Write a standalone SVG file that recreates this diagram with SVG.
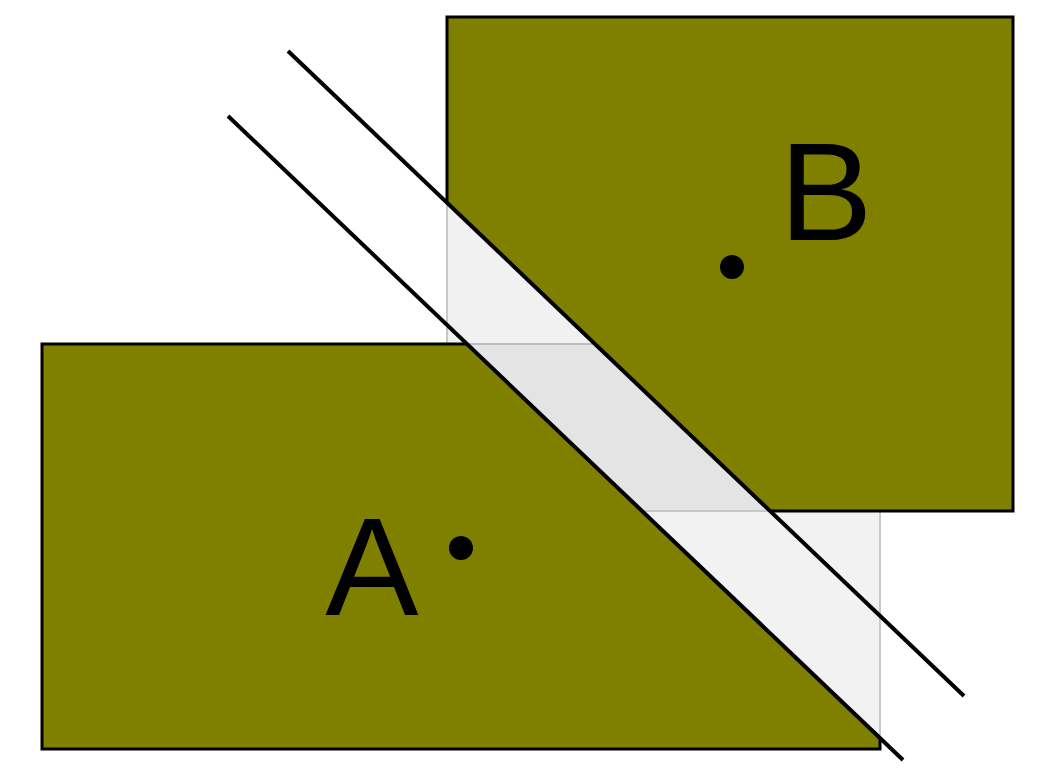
<svg xmlns="http://www.w3.org/2000/svg" width="1047" height="777" viewBox="0 0 1047 777">
<style>
.olive{fill:#808000;stroke:#000;stroke-width:3}
.ghost{stroke:#c8c8c8;stroke-width:2}
.cut{stroke:#000;stroke-width:4;fill:none}
.lbl{font-family:"Liberation Sans",Arial,sans-serif;font-size:140px;fill:#000;text-anchor:middle}
</style>
<defs>
<clipPath id="belowL1"><polygon points="0,-101.5 1047,897.4 1047,900 0,900"/></clipPath>
<clipPath id="aboveL2"><polygon points="0,-223.8 1047,775.3 1047,-300 0,-300"/></clipPath>
</defs>
<rect width="1047" height="777" fill="#fff"/>
<g id="nodeA">
<rect class="ghost" x="42" y="344" width="838" height="405" fill="#f2f2f2"/>
</g>
<g id="nodeB">
<rect class="ghost" x="447" y="17" width="566" height="494" fill="#000" fill-opacity="0.055"/>
</g>
<g id="nodeA-solid" clip-path="url(#belowL1)">
<rect class="olive" x="42" y="344" width="838" height="405"/>
</g>
<g id="nodeB-solid" clip-path="url(#aboveL2)">
<rect class="olive" x="447" y="17" width="566" height="494"/>
</g>
<g id="connectors">
<line class="cut" x1="228" y1="116" x2="903" y2="760"/>
<line class="cut" x1="288" y1="51" x2="964" y2="696"/>
</g>
<g id="labels">
<circle cx="461" cy="548" r="12" fill="#000"/>
<circle cx="732" cy="267" r="12" fill="#000"/>
<text class="lbl" x="372" y="615">A</text>
<text class="lbl" x="826" y="240">B</text>
</g>
</svg>
